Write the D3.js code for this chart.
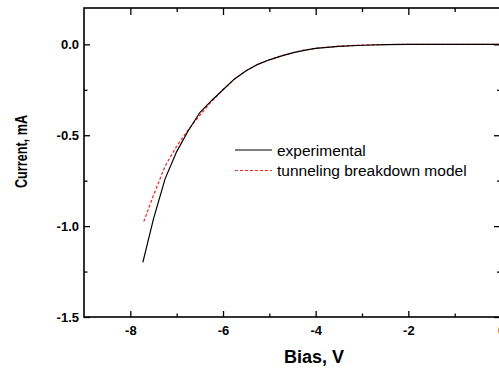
<!DOCTYPE html>
<html>
<head>
<meta charset="utf-8">
<script src="https://cdn.jsdelivr.net/npm/d3@7"></script>
<style>
	body { margin: 0; background: #fff; overflow: hidden; }
	svg { display: block; font-family: 'Liberation Sans', Arial, sans-serif; }
</style>
</head>
<body>
<svg id="chart" width="499" height="368"></svg>
<script>
// bias (V) and current (mA)
const expBias = [-7.73, -7.5, -7.25, -7.0, -6.75, -6.5, -6.25, -6.0, -5.75, -5.5, -5.25, -5.0, -4.75, -4.5, -4.25, -4.0, -3.5, -3.0, -2.5, -2.0, -1.0, 0]
const expCurrent = [-1.20, -0.96, -0.74, -0.59, -0.475, -0.375, -0.31, -0.25, -0.19, -0.145, -0.11, -0.085, -0.065, -0.047, -0.033, -0.022, -0.011, -0.005, -0.001, 0, 0, 0]

const modelBias = [-7.71, -7.5, -7.25, -7.0, -6.75, -6.5, -6.25, -6.0, -5.75, -5.5, -5.25, -5.0, -4.75, -4.5, -4.25, -4.0, -3.5, -3.0, -2.5, -2.0, -1.0, 0]
const modelCurrent = [-0.975, -0.83, -0.67, -0.56, -0.47, -0.39, -0.315, -0.25, -0.19, -0.145, -0.11, -0.085, -0.064, -0.046, -0.032, -0.021, -0.010, -0.004, -0.001, 0, 0, 0]

const xMajor = [-8, -6, -4, -2, 0]
const xMinor = [-7, -5, -3, -1]
const yMajor = [0, -0.5, -1.0, -1.5]
const yMinor = [-0.25, -0.75, -1.25]

const legendItems = ['experimental', 'tunneling breakdown model']

const svg = d3.select('#chart')
const mLeft = 84, mRight = 501, mTop = 8, mBottom = 317

const x = d3.scaleLinear().domain([-9, 0]).range([mLeft, mRight])
const y = d3.scaleLinear().domain([-1.5, 0.2]).range([mBottom, mTop])

const fmtY = d => d3.format('.1f')(d).replace('−', '-')
const fmtX = d => String(d)

function drawAxis(axis, tx, ty, labels) {
	const g = svg.append('g')
		.attr('transform', `translate(${tx},${ty})`)
		.call(axis)
	g.select('.domain').remove()
	g.selectAll('line').attr('stroke', '#000').attr('stroke-width', 1.3)
	g.selectAll('text')
		.attr('fill', '#000')
		.style('font-size', '13px')
		.style('font-weight', 'bold')
	if (!labels) g.selectAll('text').remove()
	return g
}

// bottom / top
drawAxis(d3.axisBottom(x).tickValues(xMajor).tickSize(-6).tickPadding(9).tickFormat(fmtX), 0, mBottom, true)
drawAxis(d3.axisBottom(x).tickValues(xMinor).tickSize(-3.5), 0, mBottom, false)
drawAxis(d3.axisTop(x).tickValues(xMajor).tickSize(-7), 0, mTop, false)
drawAxis(d3.axisTop(x).tickValues(xMinor).tickSize(-4), 0, mTop, false)

// left / right
drawAxis(d3.axisLeft(y).tickValues(yMajor).tickSize(-6).tickPadding(5).tickFormat(fmtY), mLeft, 0, true)
drawAxis(d3.axisLeft(y).tickValues(yMinor).tickSize(-3.5), mLeft, 0, false)
drawAxis(d3.axisRight(y).tickValues(yMajor).tickSize(-7), mRight, 0, false)
drawAxis(d3.axisRight(y).tickValues(yMinor).tickSize(-4), mRight, 0, false)

// frame
svg.append('rect')
	.attr('x', mLeft).attr('y', mTop)
	.attr('width', mRight - mLeft).attr('height', mBottom - mTop)
	.attr('fill', 'none').attr('stroke', '#000').attr('stroke-width', 1.6)

const line = d3.line().x(d => x(d[0])).y(d => y(d[1]))

svg.append('path')
	.datum(modelBias.map((b, i) => [b, modelCurrent[i]]))
	.attr('d', line)
	.attr('fill', 'none')
	.attr('stroke', '#ff2020')
	.attr('stroke-width', 1.2)
	.attr('stroke-dasharray', '3,2')

svg.append('path')
	.datum(expBias.map((b, i) => [b, expCurrent[i]]))
	.attr('d', line)
	.attr('fill', 'none')
	.attr('stroke', '#000')
	.attr('stroke-width', 1.2)

// legend
const legend = svg.append('g').attr('transform', 'translate(235,150)')
legendItems.forEach((name, i) => {
	const row = legend.append('g').attr('transform', `translate(0,${i * 20.5})`)
	row.append('line')
		.attr('x1', 0).attr('x2', 37)
		.attr('stroke', i === 0 ? '#000' : '#ff2020')
		.attr('stroke-width', 1.2)
		.attr('stroke-dasharray', i === 0 ? null : '3,2')
	row.append('text')
		.attr('x', 42).attr('y', 5.5)
		.style('font-size', '15.5px')
		.text(name)
})

// axis titles
svg.append('text')
	.attr('x', 314).attr('y', 363)
	.attr('text-anchor', 'middle')
	.style('font-size', '18px')
	.style('font-weight', 'bold')
	.text('Bias, V')

svg.append('text')
	.attr('transform', 'translate(27,151.5) rotate(-90)')
	.attr('text-anchor', 'middle')
	.attr('textLength', 73)
	.attr('lengthAdjust', 'spacingAndGlyphs')
	.style('font-size', '16px')
	.style('font-weight', 'bold')
	.text('Current, mA')
</script>
</body>
</html>
